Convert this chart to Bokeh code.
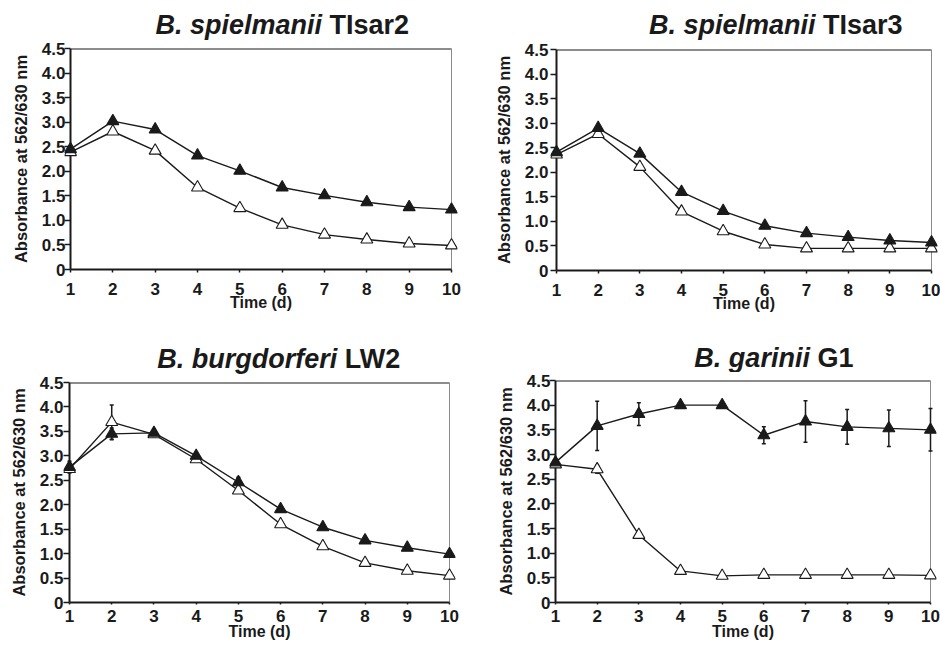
from bokeh.plotting import figure
from bokeh.models import FixedTicker, Range1d, NumeralTickFormatter
from bokeh.core.properties import value
from bokeh.layouts import row, column
from bokeh.embed import file_html
from bokeh.resources import INLINE

# ---------------- data ----------------
days = [1, 2, 3, 4, 5, 6, 7, 8, 9, 10]

title_italic = ["B. spielmanii", "B. spielmanii", "B. burgdorferi", "B. garinii"]
title_plain = ["TIsar2", "TIsar3", "LW2", "G1"]

tisar2_filled = [2.45, 3.02, 2.85, 2.32, 2.01, 1.67, 1.51, 1.37, 1.27, 1.22]
tisar2_open = [2.39, 2.81, 2.42, 1.67, 1.25, 0.91, 0.71, 0.61, 0.53, 0.49]

tisar3_filled = [2.41, 2.90, 2.38, 1.60, 1.21, 0.91, 0.76, 0.68, 0.61, 0.57]
tisar3_open = [2.36, 2.78, 2.11, 1.20, 0.80, 0.53, 0.45, 0.45, 0.45, 0.45]

lw2_filled = [2.77, 3.45, 3.47, 3.00, 2.46, 1.91, 1.54, 1.27, 1.12, 0.99]
lw2_filled_err = [0.12, 0.12, 0.08, 0.0, 0.10, 0.0, 0.0, 0.0, 0.0, 0.0]
lw2_open = [2.73, 3.69, 3.44, 2.93, 2.29, 1.60, 1.15, 0.81, 0.65, 0.55]
lw2_open_err = [0.0, 0.35, 0.0, 0.0, 0.0, 0.0, 0.0, 0.0, 0.0, 0.0]

g1_filled = [2.84, 3.58, 3.82, 4.00, 4.00, 3.39, 3.67, 3.56, 3.53, 3.50]
g1_filled_err = [0.05, 0.50, 0.23, 0.0, 0.0, 0.17, 0.42, 0.35, 0.37, 0.43]
g1_open = [2.80, 2.70, 1.37, 0.64, 0.54, 0.56, 0.56, 0.56, 0.56, 0.55]
g1_open_err = [0.0, 0.08, 0.05, 0.0, 0.0, 0.0, 0.0, 0.0, 0.0, 0.0]

zeros = [0.0] * 10

y_ticks = [0, 0.5, 1.0, 1.5, 2.0, 2.5, 3.0, 3.5, 4.0, 4.5]
y_tick_labels = ["0", "0.5", "1.0", "1.5", "2.0", "2.5", "3.0", "3.5", "4.0", "4.5"]
x_label = "Time (d)"
y_label = "Absorbance at 562/630 nm"

series = [
    (tisar2_filled, zeros, tisar2_open, zeros),
    (tisar3_filled, zeros, tisar3_open, zeros),
    (lw2_filled, lw2_filled_err, lw2_open, lw2_open_err),
    (g1_filled, g1_filled_err, g1_open, g1_open_err),
]

# ---------------- layout / style ----------------
FONT = "Liberation Sans"
TXT = "#1a1a1a"
TITLE_PX = 27
PAD = 6    # px of frame beyond first/last day so edge markers are not clipped
TOPB = 8   # plot top border (room for the top tick label)
TITLE_SHIFT = 9  # empirical correction of the title text's vertical placement

# frame_top: px from row top to frame top; ph: plot fig height (without TOPB)
panels = [
    dict(w=470, frame_top=48, ph=270, left=64, right=13, bottom=49, ysto=-1, ylsto=9,
         xout=3, xsto=10, xlsto=-4, tit=15),
    dict(w=470, frame_top=49, ph=269, left=80, right=3, bottom=48, ysto=2, ylsto=9,
         xout=3, xsto=10, xlsto=-4, tit=16),
    dict(w=470, frame_top=64, ph=264, left=63, right=15, bottom=44, ysto=0, ylsto=9,
         xout=2, xsto=5, xlsto=-2, tit=15),
    dict(w=470, frame_top=62, ph=266, left=79, right=4, bottom=44, ysto=-1, ylsto=9,
         xout=2, xsto=5, xlsto=-2, tit=14),
]

# Liberation Sans Bold advance widths (per 1000 em)
CW = {'B': 722, '.': 278, ' ': 278, 's': 556, 'p': 611, 'i': 278, 'e': 556, 'l': 278,
      'm': 889, 'a': 556, 'n': 611, 'T': 611, 'I': 278, 'r': 389, '2': 556, '3': 556,
      'b': 611, 'u': 611, 'g': 611, 'd': 611, 'o': 611, 'f': 333, 'L': 611, 'W': 944,
      'G': 778, '1': 556}


def text_w(s, px):
    return sum(CW.get(c, 556) for c in s) / 1000.0 * px


def make_title(i):
    cfg = panels[i]
    w, h = cfg["w"], cfg["frame_top"] - TOPB
    t = figure(width=w, height=h, output_backend="svg", toolbar_location=None, title=None,
               x_range=Range1d(0, w), y_range=Range1d(0, h),
               x_axis_type=None, y_axis_type=None,
               min_border_left=0, min_border_right=0, min_border_top=0, min_border_bottom=0)
    t.outline_line_color = None
    t.grid.visible = False
    t.background_fill_color = "white"
    t.border_fill_color = "white"
    frame_w = w - cfg["left"] - cfg["right"]
    cx = cfg["left"] + frame_w / 2.0
    base = cfg["tit"] - TOPB + TITLE_SHIFT
    wi = text_w(title_italic[i], TITLE_PX)
    ws = text_w(" ", TITLE_PX)
    wp = text_w(title_plain[i], TITLE_PX)
    total = wi + ws + wp
    t.text(x=[cx], y=[base], text=[title_italic[i]], x_offset=-total / 2 + wi,
           text_font=value(FONT), text_font_size=value(f"{TITLE_PX}px"),
           text_font_style="bold italic", text_color=TXT,
           text_align="right", text_baseline="alphabetic")
    t.text(x=[cx], y=[base], text=[title_plain[i]], x_offset=-total / 2 + wi + ws,
           text_font=value(FONT), text_font_size=value(f"{TITLE_PX}px"),
           text_font_style="bold", text_color=TXT,
           text_align="left", text_baseline="alphabetic")
    return t


def make_panel(i):
    cfg = panels[i]
    filled, filled_err, opn, opn_err = series[i]
    frame_w = cfg["w"] - cfg["left"] - cfg["right"]
    ppu = (frame_w - 2 * PAD) / (days[-1] - days[0])
    pad_u = PAD / ppu
    p = figure(width=cfg["w"], height=cfg["ph"] + TOPB, output_backend="svg",
               toolbar_location=None, title=None,
               x_range=Range1d(days[0] - pad_u, days[-1] + pad_u),
               y_range=Range1d(y_ticks[0], y_ticks[-1]),
               min_border_left=cfg["left"], min_border_right=cfg["right"],
               min_border_top=TOPB, min_border_bottom=cfg["bottom"])
    p.outline_line_color = None
    p.grid.visible = False
    p.background_fill_color = "white"
    p.border_fill_color = "white"

    p.xaxis.ticker = FixedTicker(ticks=days)
    p.xaxis.bounds = (days[0], days[-1])
    p.yaxis.ticker = FixedTicker(ticks=y_ticks)
    p.yaxis.formatter = NumeralTickFormatter(format="0.0")
    p.yaxis.major_label_overrides = {t: l for t, l in zip(y_ticks, y_tick_labels)}
    for ax in p.axis:
        ax.axis_line_width = 2
        ax.axis_line_color = TXT
        ax.major_tick_line_color = TXT
        ax.major_tick_line_width = 1.5
        ax.minor_tick_line_color = None
        ax.major_label_text_font = FONT
        ax.major_label_text_font_size = "17px"
        ax.major_label_text_font_style = "bold"
        ax.major_label_text_color = TXT
        ax.axis_label_text_font = FONT
        ax.axis_label_text_font_style = "bold"
        ax.axis_label_text_color = TXT
    # y axis: real axis at frame edge, visual spine drawn at day 1
    p.yaxis.axis_line_color = None
    p.yaxis.major_tick_in = PAD
    p.yaxis.major_tick_out = 0
    p.yaxis.major_label_standoff = cfg["ysto"]
    p.yaxis.axis_label = y_label
    p.yaxis.axis_label_text_font_size = "16.5px"
    p.yaxis.axis_label_standoff = cfg["ylsto"]
    # x axis
    p.xaxis.major_tick_in = 0
    p.xaxis.major_tick_out = cfg["xout"]
    p.xaxis.major_label_standoff = cfg["xsto"]
    p.xaxis.axis_label = x_label
    p.xaxis.axis_label_text_font_size = "16px"
    p.xaxis.axis_label_standoff = cfg["xlsto"]

    # spine at day 1, dark top border, gray right border
    p.segment(x0=[days[0]], y0=[y_ticks[0]], x1=[days[0]], y1=[y_ticks[-1]],
              line_color=TXT, line_width=2)
    p.segment(x0=[days[0]], y0=[y_ticks[-1]], x1=[days[-1]], y1=[y_ticks[-1]],
              line_color=TXT, line_width=2)
    p.segment(x0=[days[-1]], y0=[y_ticks[0]], x1=[days[-1]], y1=[y_ticks[-1]],
              line_color="#8a8a8a", line_width=1)

    # error bars
    for vals, errs in ((opn, opn_err), (filled, filled_err)):
        xs = [d for d, e in zip(days, errs) if e > 0]
        lo = [v - e for v, e in zip(vals, errs) if e > 0]
        hi = [v + e for v, e in zip(vals, errs) if e > 0]
        if xs:
            p.segment(x0=xs, y0=lo, x1=xs, y1=hi, line_color=TXT, line_width=1.5)
            p.scatter(xs, lo, marker="dash", size=4, line_color=TXT, line_width=1.5)
            p.scatter(xs, hi, marker="dash", size=4, line_color=TXT, line_width=1.5)

    # series
    p.line(days, opn, line_color=TXT, line_width=1.4)
    p.scatter(days, opn, marker="triangle", size=12, fill_color="white",
              line_color=TXT, line_width=1.1)
    p.line(days, filled, line_color=TXT, line_width=1.4)
    p.scatter(days, filled, marker="triangle", size=12, fill_color=TXT,
              line_color=TXT, line_width=1.1)
    return p


cols = [column(make_title(i), make_panel(i)) for i in range(4)]
layout = column(row(cols[0], cols[1]), row(cols[2], cols[3]))

open("out.html", "w").write(file_html(layout, INLINE))
